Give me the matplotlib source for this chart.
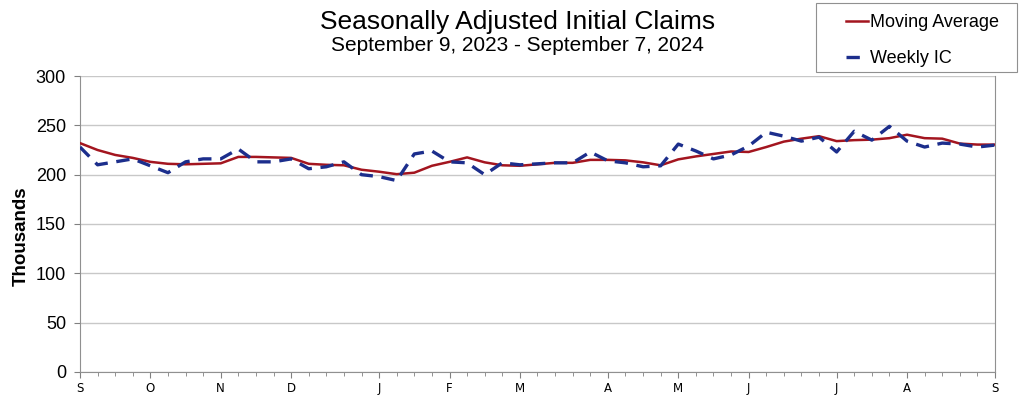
import numpy as np
import pandas as pd
import matplotlib
matplotlib.use("Agg")
import matplotlib.pyplot as plt
from matplotlib.ticker import FixedLocator
from matplotlib.patches import Rectangle

plt.rcParams['font.family'] = ['Liberation Sans', 'DejaVu Sans']

# week ending dates, Sep 9 2023 .. Sep 7 2024
weeks = pd.date_range('2023-09-09', periods=53, freq='7D')

# seasonally adjusted initial claims, thousands
weekly_ic = [228, 210, 213, 216, 209, 202, 213, 216, 216, 226,
             213, 213, 216, 206, 208, 213, 200, 198, 194, 221,
             224, 213, 212, 200, 212, 210, 211, 212, 212, 223,
             214, 212, 208, 209, 231, 224, 216, 220, 229, 243,
             239, 234, 238, 223, 244, 235, 249, 234, 228, 232,
             231, 228, 230]

moving_avg = [232, 225, 220, 217, 213, 211, 210.5, 211, 211.5, 218,
              218, 217.5, 217, 211, 210, 209.5, 205, 203, 200.5, 202,
              209, 213, 217.5, 212.5, 209.5, 209, 210.5, 212, 212, 215,
              215, 214.5, 212.5, 209.5, 215.5, 218.5, 221, 223.5, 223, 228,
              233.5, 236.5, 239, 234, 235, 235.5, 237, 240.5, 237, 236.5,
              231.5, 230.5, 230.5]

y_ticks = [0, 50, 100, 150, 200, 250, 300]

x = np.arange(len(weeks))
# month label at the first week of each month
month_idx = [0] + [i for i in range(1, len(weeks)) if weeks[i].month != weeks[i - 1].month]
month_lbl = [weeks[i].strftime('%b')[0] for i in month_idx]

fig = plt.figure(figsize=(10.2, 3.99), dpi=100)
ax = fig.add_axes([0.0784, 0.0677, 0.8971, 0.7418])

ax.plot(x, moving_avg, color='#A3151F', lw=1.8, label='Moving Average', zorder=3)
ax.plot(x, weekly_ic, color='#1C2E8C', lw=2.4, ls=(0, (4, 2.6)), label='Weekly IC', zorder=4)

ax.set_xlim(0, len(weeks) - 1)
ax.set_ylim(0, 300)
ax.set_yticks(y_ticks)
ax.grid(axis='y', color='#c8c8c8', lw=1)
ax.set_axisbelow(True)

ax.set_xticks(month_idx)
ax.set_xticklabels(month_lbl, fontsize=8.5, family='DejaVu Sans')
ax.xaxis.set_minor_locator(FixedLocator(x))
ax.tick_params(axis='x', which='both', direction='out', length=3, color='#808080', pad=3)
ax.tick_params(axis='x', which='major', length=4)
ax.tick_params(axis='y', direction='out', length=4, color='#808080', labelsize=13, pad=6)

for s in ['left', 'bottom', 'right']:
    ax.spines[s].set_color('#909090')
ax.spines['top'].set_visible(False)

ax.set_ylabel('Thousands', fontsize=13.5, fontweight='bold')
ax.yaxis.set_label_coords(-0.055, 0.46)

fig.text(0.507, 0.946, 'Seasonally Adjusted Initial Claims', ha='center', va='center', fontsize=19)
fig.text(0.507, 0.886, 'September 9, 2023 - September 7, 2024', ha='center', va='center', fontsize=15)

# legend box drawn separately so the padding matches
fig.patches.append(Rectangle((0.800, 0.8195), 0.197, 0.173, transform=fig.transFigure,
                             fill=False, edgecolor='#909090', lw=0.8))
leg = fig.legend(loc='upper left', bbox_to_anchor=(0.829, 0.964), fontsize=13,
                 handlelength=1.25, handletextpad=0.1, borderpad=0, labelspacing=1.05,
                 frameon=False, borderaxespad=0)

fig.savefig('out.png', dpi=100)
